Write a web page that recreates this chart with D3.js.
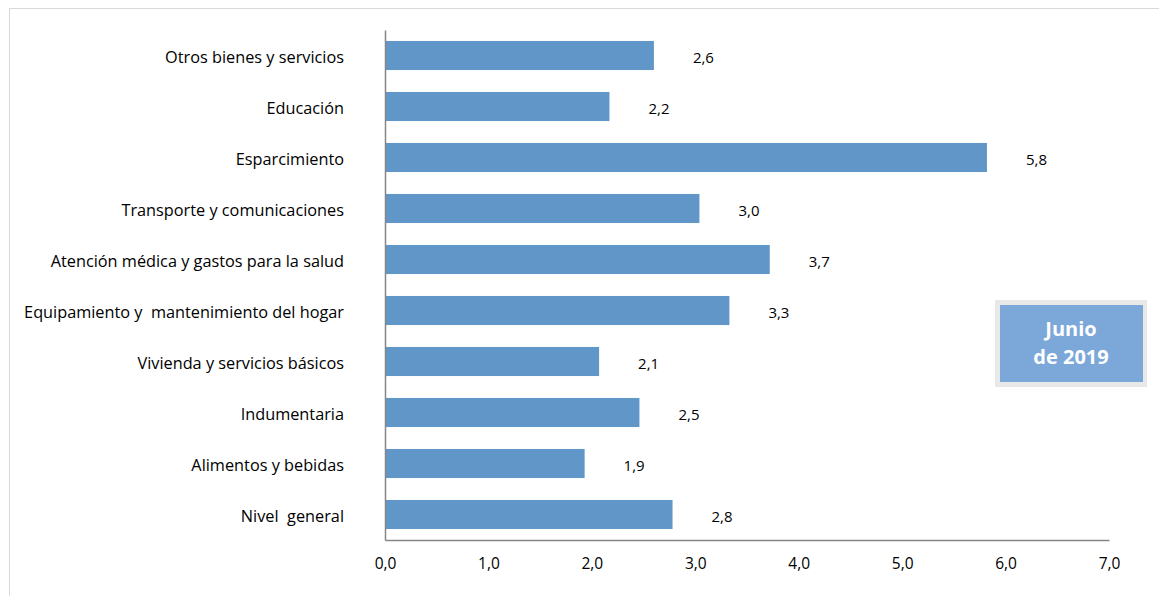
<!DOCTYPE html>
<html>
<head>
<meta charset="utf-8">
<script src="https://cdn.jsdelivr.net/npm/d3@7"></script>
<style>
  body { margin: 0; background: #fff; }
  text { font-family: "Open Sans", "Noto Sans", sans-serif; fill: #000; white-space: pre; }
</style>
</head>
<body>
<svg id="chart" width="1159" height="596"></svg>
<script>
// categories from top to bottom, as in the picture
const categories = [
  "Otros bienes y servicios",
  "Educación",
  "Esparcimiento",
  "Transporte y comunicaciones",
  "Atención médica y gastos para la salud",
  "Equipamiento y  mantenimiento del hogar",
  "Vivienda y servicios básicos",
  "Indumentaria",
  "Alimentos y bebidas",
  "Nivel  general"
];
// bar lengths (labels show them rounded to one decimal)
const values = [2.6, 2.17, 5.82, 3.04, 3.72, 3.33, 2.07, 2.46, 1.93, 2.78];
const xTicks = [0, 1, 2, 3, 4, 5, 6, 7];
const legendLines = ["Junio", "de 2019"];

const width = 1159;
const height = 596;
const plotLeft = 385, plotRight = 1109, plotTop = 30, plotBottom = 540;

const svg = d3.select("#chart");
const fmt = (d) => d3.format(".1f")(d).replace(".", ",");

// outer chart border
svg.append("rect")
  .attr("x", 9.5).attr("y", 8.5)
  .attr("width", width).attr("height", height)
  .style("fill", "none")
  .style("stroke", "#d9d9d9");

const xScale = d3.scaleLinear().domain([0, 7]).range([plotLeft, plotRight]);
const yScale = d3.scaleBand()
  .domain(categories)
  .range([plotTop, plotBottom])
  .paddingInner(0.43)
  .paddingOuter(0.215);

const data = categories.map((c, i) => ({ name: c, value: values[i] }));

// bars
svg.selectAll("rect.bar")
  .data(data)
  .join("rect")
  .attr("class", "bar")
  .attr("x", xScale(0))
  .attr("y", (d) => yScale(d.name))
  .attr("width", (d) => xScale(d.value) - xScale(0))
  .attr("height", yScale.bandwidth())
  .style("fill", "#6096c8");

// value labels
svg.selectAll("text.val")
  .data(data)
  .join("text")
  .attr("class", "val")
  .attr("x", (d) => xScale(d.value) + 39)
  .attr("y", (d) => yScale(d.name) + yScale.bandwidth() / 2 + 3)
  .attr("dominant-baseline", "middle")
  .style("font-size", "15px")
  .text((d) => fmt(d.value));

// x axis
const xAxis = d3.axisBottom(xScale)
  .tickValues(xTicks)
  .tickSize(0)
  .tickPadding(18)
  .tickFormat(fmt);
const gx = svg.append("g")
  .attr("transform", `translate(0,${plotBottom})`)
  .call(xAxis);
gx.select(".domain").style("stroke", "#868686").style("stroke-width", 1.5);
gx.selectAll("text").style("font-size", "15.5px").style("font-family", "\"Open Sans\", sans-serif").style("fill", "#000");

// y axis
const yAxis = d3.axisLeft(yScale).tickSize(0).tickPadding(41);
const gy = svg.append("g")
  .attr("transform", `translate(${plotLeft},0)`)
  .call(yAxis);
gy.select(".domain").style("stroke", "#868686").style("stroke-width", 1.5);
gy.selectAll("text")
  .attr("dy", "0.45em")
  .style("font-size", "16.3px")
  .style("font-family", "\"Open Sans\", sans-serif")
  .style("white-space", "pre")
  .style("fill", "#000");

// legend box
const lg = svg.append("g");
lg.append("rect")
  .attr("x", 995).attr("y", 300)
  .attr("width", 152).attr("height", 87)
  .style("fill", "#e8e8e8");
lg.append("rect")
  .attr("x", 1000).attr("y", 305)
  .attr("width", 143).attr("height", 77)
  .style("fill", "#7ba7d9");
lg.selectAll("text")
  .data(legendLines)
  .join("text")
  .attr("x", 1071)
  .attr("y", (d, i) => 331 + i * 28)
  .attr("text-anchor", "middle")
  .attr("dominant-baseline", "middle")
  .style("fill", "#fff")
  .style("font-weight", "bold")
  .style("font-size", "20px")
  .text((d) => d);
</script>
</body>
</html>
